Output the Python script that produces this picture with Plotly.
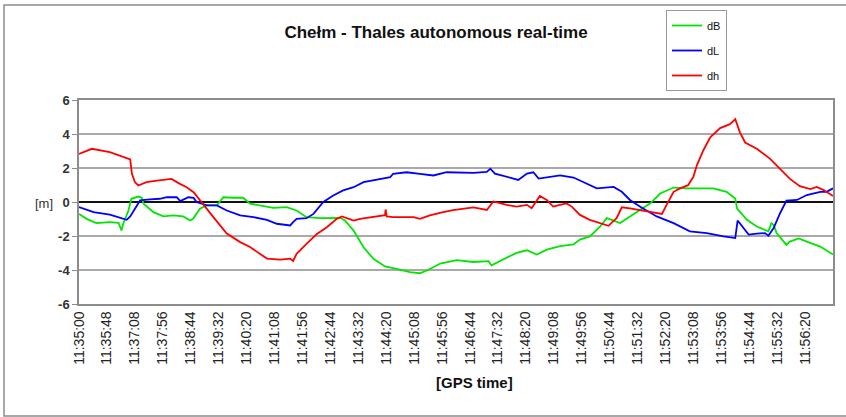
import plotly.graph_objects as go

# sample index = seconds-ish position along the Excel category axis
tick_idx = [i * 48 for i in range(27)]
tick_labels = [
    "11:35:00", "11:35:48", "11:37:08", "11:37:56", "11:38:44", "11:39:32",
    "11:40:20", "11:41:08", "11:41:56", "11:42:44", "11:43:32", "11:44:20",
    "11:45:08", "11:45:56", "11:46:44", "11:47:32", "11:48:20", "11:49:08",
    "11:49:56", "11:50:44", "11:51:32", "11:52:20", "11:53:08", "11:53:56",
    "11:54:44", "11:55:32", "11:56:20",
]
y_ticks = [-6, -4, -2, 0, 2, 4, 6]
y_labels = ["-6", "-4", "-2", "0", "2", "4", "6"]

# dB (green)
db_x = [0, 13, 30, 53, 68, 73, 76, 85, 90, 102, 108, 111, 128, 145, 162, 179,
        191, 196, 208, 219, 237, 248, 265, 282, 294, 311, 334, 357, 374, 391,
        414, 449, 457, 472, 489, 506, 526, 546, 569, 586, 598, 621, 649, 678,
        704, 709, 729, 752, 770, 787, 804, 827, 850, 861, 878, 896, 907, 918,
        930, 947, 964, 982, 999, 1022, 1045, 1067, 1090, 1113, 1128, 1131,
        1136, 1148, 1165, 1185, 1190, 1194, 1199, 1216, 1222, 1237, 1251,
        1274, 1296]
db_y = [-0.70, -0.99, -1.24, -1.18, -1.22, -1.68, -1.28, -0.50, 0.19, 0.32,
        0.25, -0.10, -0.60, -0.85, -0.79, -0.85, -1.09, -0.99, -0.40, -0.20,
        -0.20, 0.28, 0.25, 0.25, -0.10, -0.20, -0.34, -0.30, -0.50, -0.89,
        -0.95, -0.93, -1.09, -1.68, -2.66, -3.34, -3.79, -3.93, -4.13, -4.19,
        -4.03, -3.62, -3.42, -3.53, -3.48, -3.73, -3.38, -2.99, -2.84, -3.09,
        -2.80, -2.60, -2.50, -2.21, -2.02, -1.44, -0.95, -1.09, -1.24, -0.85,
        -0.50, -0.08, 0.50, 0.85, 0.80, 0.80, 0.80, 0.60, 0.21, -0.37, -0.56,
        -1.05, -1.44, -1.73, -1.24, -1.34, -1.83, -2.52, -2.33, -2.14, -2.33,
        -2.62, -3.09]

# dL (blue)
dl_x = [0, 25, 53, 73, 82, 88, 96, 105, 122, 139, 151, 168, 174, 188, 197,
        202, 220, 237, 254, 277, 300, 323, 340, 363, 368, 374, 391, 403, 420,
        437, 454, 472, 489, 512, 535, 540, 563, 586, 609, 632, 643, 678, 701,
        707, 715, 735, 755, 770, 781, 790, 804, 827, 850, 873, 890, 919, 933,
        947, 964, 993, 1022, 1050, 1079, 1108, 1128, 1132, 1142, 1151, 1165,
        1179, 1185, 1194, 1205, 1216, 1234, 1251, 1274, 1285, 1296]
dl_y = [-0.30, -0.60, -0.74, -0.93, -1.05, -0.85, -0.40, 0.09, 0.15, 0.19,
        0.28, 0.28, 0.05, 0.28, 0.24, 0.00, -0.20, -0.20, -0.50, -0.79, -0.89,
        -1.05, -1.28, -1.38, -1.18, -0.99, -0.95, -0.70, 0.00, 0.38, 0.68,
        0.87, 1.17, 1.30, 1.46, 1.66, 1.75, 1.66, 1.56, 1.75, 1.75, 1.71, 1.77,
        1.96, 1.67, 1.50, 1.30, 1.67, 1.75, 1.38, 1.44, 1.57, 1.44, 1.09, 0.80,
        0.89, 0.60, 0.12, -0.27, -0.85, -1.24, -1.73, -1.83, -2.02, -2.12,
        -1.09, -1.53, -1.92, -1.86, -1.83, -1.98, -1.53, -0.66, 0.08, 0.12,
        0.41, 0.60, 0.60, 0.80]

# dh (red)
dh_x = [0, 22, 53, 88, 91, 96, 102, 116, 134, 159, 171, 185, 197, 211, 231,
        254, 277, 294, 311, 323, 346, 363, 368, 374, 391, 409, 426, 443, 452,
        472, 483, 506, 526, 527, 529, 540, 575, 586, 603, 626, 643, 678, 701,
        712, 724, 735, 752, 770, 778, 792, 804, 815, 827, 838, 847, 861, 878,
        896, 910, 924, 933, 947, 964, 982, 1002, 1010, 1022, 1033, 1047, 1056,
        1062, 1073, 1085, 1102, 1119, 1128, 1136, 1145, 1165, 1188, 1205,
        1222, 1239, 1257, 1268, 1280, 1296]
dh_y = [2.83, 3.13, 2.93, 2.50, 1.66, 1.17, 0.97, 1.17, 1.26, 1.36, 1.11,
        0.87, 0.58, 0.00, -0.89, -1.86, -2.36, -2.65, -3.03, -3.33, -3.39,
        -3.33, -3.47, -3.05, -2.46, -1.88, -1.48, -0.99, -0.85, -1.09, -0.99,
        -0.85, -0.77, -0.44, -0.85, -0.89, -0.89, -0.99, -0.79, -0.60, -0.48,
        -0.32, -0.47, 0.03, -0.08, -0.17, -0.27, -0.17, -0.37, 0.35, 0.12,
        -0.27, -0.17, -0.08, -0.27, -0.76, -1.05, -1.24, -1.40, -0.95, -0.31,
        -0.37, -0.47, -0.56, -0.70, -0.17, 0.60, 0.80, 0.99, 1.48, 2.16, 3.03,
        3.81, 4.35, 4.58, 4.87, 4.10, 3.50, 3.13, 2.54, 1.96, 1.36, 0.93, 0.76,
        0.89, 0.70, 0.35]

series = [
    ("dB", db_x, db_y, "rgb(0,230,0)"),
    ("dL", dl_x, dl_y, "rgb(0,0,255)"),
    ("dh", dh_x, dh_y, "rgb(255,0,0)"),
]

fig = go.Figure()
for name, xs, ys, color in series:
    fig.add_trace(go.Scatter(
        x=xs, y=ys, name=name, mode="lines", legendgroup=name,
        line=dict(color=color, width=1.8),
    ))

# plot area in px: x 79..833, y 100..304
def px_x(p):
    return (p - 79) / 754

def px_y(p):
    return (304 - p) / 204

fig.update_layout(
    width=846, height=417,
    margin=dict(l=79, r=13, t=100, b=113, autoexpand=False),
    paper_bgcolor="white", plot_bgcolor="white",
    font=dict(family="Liberation Sans, Arial, sans-serif", color="#222"),
    title=dict(
        text="<b>Chełm - Thales autonomous real-time</b>",
        x=436 / 846, xref="container", xanchor="center",
        y=1 - 32 / 417, yref="container", yanchor="middle",
        font=dict(family="Liberation Sans, Arial, sans-serif", size=17, color="#111"),
    ),
    legend=dict(
        x=px_x(666), y=px_y(10), xanchor="left", yanchor="top",
        bordercolor="#999", borderwidth=1, bgcolor="white",
        font=dict(size=11, color="#111"), itemwidth=30, tracegroupgap=6,
    ),
    showlegend=True,
)

fig.update_xaxes(
    range=[0, 1296],
    tickvals=tick_idx, ticktext=tick_labels, tickangle=-90,
    tickfont=dict(size=14, color="#222"),
    showgrid=False, zeroline=False,
    showline=True, linecolor="#8c8c8c", linewidth=1.5, mirror=True,
    ticks="",
)
fig.update_yaxes(
    range=[-6, 6], tickvals=y_ticks, ticktext=["<b>%s</b>" % t for t in y_labels],
    tickfont=dict(size=13, color="#333", family="Liberation Sans"),
    showgrid=True, gridcolor="#a9a9a9", gridwidth=1.5,
    zeroline=True, zerolinecolor="#111", zerolinewidth=2,
    showline=True, linecolor="#8c8c8c", linewidth=1.5, mirror=True,
    ticks="outside", ticklen=5, tickcolor="#8c8c8c",
)

fig.add_annotation(
    text="[m]", x=px_x(33), y=px_y(203), xref="paper", yref="paper",
    showarrow=False, font=dict(size=13, color="#333"),
)
fig.add_annotation(
    text="<b>[GPS time]</b>", x=px_x(475), y=px_y(393), xref="paper", yref="paper",
    showarrow=False, font=dict(size=15, color="#111"),
)

# outer chart frame
fig.add_shape(
    type="rect", xref="paper", yref="paper",
    x0=px_x(4), x1=px_x(852), y0=px_y(416), y1=px_y(5),
    line=dict(color="#8c8c8c", width=1.5), layer="below",
)

# page body margin would push the figure off the 846x417 window
fig.write_html(
    "out.html",
    config={"displayModeBar": False},
    post_script="document.body.style.margin='0';",
)
